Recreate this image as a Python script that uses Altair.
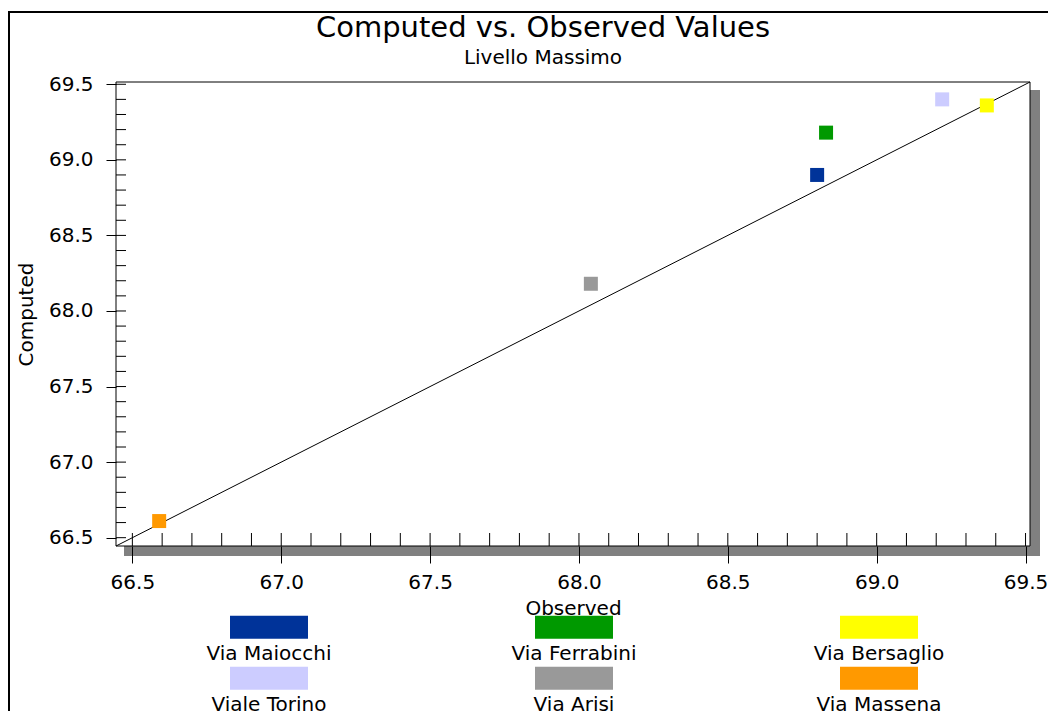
import altair as alt
import pandas as pd

# ---- data ----
stations = ["Via Maiocchi", "Via Ferrabini", "Via Bersaglio",
            "Viale Torino", "Via Arisi", "Via Massena"]
observed = [68.80, 68.83, 69.37, 69.22, 68.04, 66.59]
computed = [68.90, 69.18, 69.36, 69.40, 68.18, 66.61]
colors = ["#003399", "#009900", "#FFFF00", "#CCCCFF", "#999999", "#FF9900"]
major_ticks = [66.5, 67.0, 67.5, 68.0, 68.5, 69.0, 69.5]
minor_ticks = [round(66.5 + 0.1 * i, 1) for i in range(31)]
domain = [66.445, 69.515]

W, H = 914, 464
FONT = "DejaVu Sans"

df = pd.DataFrame({"station": stations, "observed": observed, "computed": computed})
one = alt.Data(values=[{"k": 0}])

xs = alt.Scale(domain=domain, nice=False, zero=False)
ys = alt.Scale(domain=domain, nice=False, zero=False)

outer = alt.Chart(one).mark_rect(fillOpacity=0, stroke="black", strokeWidth=2).encode(
    x=alt.value(-107), x2=alt.value(W + 200), y=alt.value(-70), y2=alt.value(H + 400)
)
shadow = alt.Chart(one).mark_rect(color="#808080").encode(
    x=alt.value(8), x2=alt.value(W + 10), y=alt.value(8), y2=alt.value(H + 10)
)
frame = alt.Chart(one).mark_rect(fill="white", stroke="black", strokeWidth=1).encode(
    x=alt.value(0), x2=alt.value(W), y=alt.value(0), y2=alt.value(H)
)
diag = alt.Chart(pd.DataFrame({"observed": domain, "computed": domain})).mark_line(
    color="black", strokeWidth=1
).encode(
    x=alt.X("observed:Q", scale=xs, title="Observed"),
    y=alt.Y("computed:Q", scale=ys, title="Computed"),
)
xticks = alt.Chart(pd.DataFrame({"observed": minor_ticks})).mark_rule(color="black").encode(
    x=alt.X("observed:Q", scale=xs, title="Observed"), y=alt.value(H - 13), y2=alt.value(H)
)
yticks = alt.Chart(pd.DataFrame({"computed": minor_ticks})).mark_rule(color="black").encode(
    y=alt.Y("computed:Q", scale=ys, title="Computed"), x=alt.value(0), x2=alt.value(10)
)

axis_common = dict(
    values=major_ticks, format=".1f", domain=False, grid=False,
    tickColor="black", tickWidth=1, labelFont=FONT, labelFontSize=20,
    labelColor="black", titleFont=FONT, titleFontSize=20,
    titleFontWeight="normal", titleColor="black", zindex=1,
)

points = alt.Chart(df).mark_square(size=196, opacity=1, filled=True).encode(
    x=alt.X("observed:Q", scale=xs,
            axis=alt.Axis(title="Observed", tickSize=17, labelPadding=9,
                          titlePadding=6, **axis_common)),
    y=alt.Y("computed:Q", scale=ys,
            axis=alt.Axis(title="Computed", tickSize=10, labelPadding=13,
                          titlePadding=12, **axis_common)),
    color=alt.Color(
        "station:N",
        scale=alt.Scale(domain=stations, range=colors),
        legend=alt.Legend(
            orient="none", legendX=75, legendY=543, direction="horizontal",
            columns=3, title=None, padding=0,
            symbolType="M0,-1.24H2V-0.65H0Z", symbolSize=6084,
            symbolStrokeWidth=0, symbolOpacity=1,
            labelAlign="center", labelBaseline="bottom", labelOffset=0,
            labelFont=FONT, labelFontSize=20, labelColor="black", labelLimit=300,
            columnPadding=164, rowPadding=2,
        ),
    ),
)

chart = alt.layer(outer, shadow, frame, diag, xticks, yticks, points).properties(
    width=W, height=H,
    title=alt.TitleParams(
        text="Computed vs. Observed Values", subtitle="Livello Massimo",
        font=FONT, fontSize=29, fontWeight="normal", color="black",
        subtitleFont=FONT, subtitleFontSize=20, subtitleColor="black",
        anchor="middle", dx=-30, offset=-57, subtitlePadding=5,
    ),
    autosize=alt.AutoSizeParams(type="none"),
    padding={"left": 108, "top": 74, "right": 18, "bottom": 165},
).configure_view(strokeWidth=0)

chart.save("out.html", embed_options={"renderer": "svg", "actions": False})
